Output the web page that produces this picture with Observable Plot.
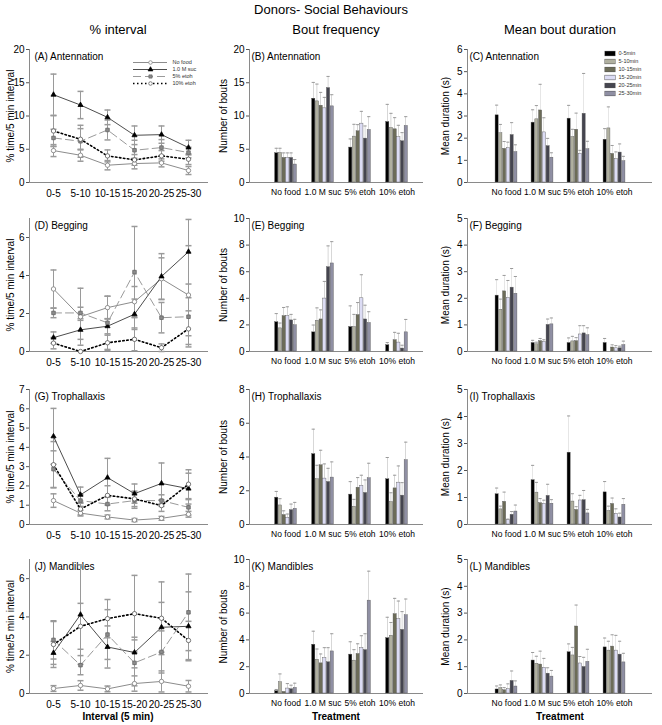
<!DOCTYPE html>
<html>
<head>
<meta charset="utf-8">
<script src="https://cdn.jsdelivr.net/npm/d3@7"></script>
<script src="https://cdn.jsdelivr.net/npm/@observablehq/plot@0.6"></script>
<style>
html,body{margin:0;padding:0;background:#fff;}
#fig{position:relative;width:662px;height:725px;overflow:hidden;font-family:"Liberation Sans",Arial,Helvetica,sans-serif;color:#000;}
.t{position:absolute;white-space:nowrap;transform:translateX(-50%);line-height:1;}
</style>
</head>
<body>
<div id="fig"></div>
<script>
// ---------- categories ----------
const intervals = ["0-5","5-10","10-15","15-20","20-25","25-30"];
const treatments = ["No food","1.0 M suc","5% etoh","10% etoh"];
const periods = ["0-5min","5-10min","10-15min","15-20min","20-25min","25-30min"];

// ---------- % interval (rows = treatments, cols = intervals) ----------
const antPctMean = [[4.8,4.1,2.6,2.85,2.95,1.8],[13.2,11.65,9.8,7.1,7.2,5.25],[6.7,6.2,7.9,4.85,5.25,4.5],[7.75,6.5,4.0,3.4,4.0,3.5]];
const antPctErr  = [[0.9,0.9,0.7,0.8,0.6,0.6],[3.1,2.05,1.1,1.4,1.3,1.1],[1.3,2.4,1.5,1.5,1.2,0.8],[2.3,1.6,0.9,0.8,0.8,0.8]];
const begPctMean = [[3.29,1.83,2.31,2.62,3.83,2.97],[0.73,1.14,1.33,1.96,3.95,5.25],[2.03,2.03,1.51,4.18,1.78,1.83],[0.44,0.0,0.46,0.64,0.2,1.19]];
const begPctErr  = [[1.0,1.5,0.6,0.8,1.1,2.6],[0.3,0.5,0.4,0.8,1.2,1.7],[0.25,0.3,1.4,2.4,0.8,1.0],[0.3,0.0,0.4,0.6,0.2,0.95]];
const troPctMean = [[1.24,0.59,0.39,0.23,0.32,0.53],[4.57,1.54,2.43,1.6,2.13,1.86],[2.87,1.24,1.06,1.24,1.24,0.89],[3.1,0.8,1.51,1.33,0.98,2.09]];
const troPctErr  = [[0.35,0.15,0.1,0.08,0.1,0.15],[1.45,0.4,1.0,0.5,1.06,0.8],[0.95,0.3,0.35,0.4,0.3,0.4],[1.2,0.3,0.5,0.4,0.3,0.75]];
const manPctMean = [[0.26,0.42,0.24,0.52,0.63,0.38],[2.12,4.12,2.43,2.14,3.46,3.51],[2.8,1.48,3.08,1.6,2.17,4.24],[2.56,3.51,3.91,4.17,3.93,2.77]];
const manPctErr  = [[0.15,0.25,0.15,0.4,0.55,0.3],[0.6,2.6,1.1,0.8,1.3,1.8],[1.0,0.5,1.3,1.2,1.1,2.0],[1.2,1.2,1.0,2.0,1.9,1.0]];

// ---------- bout frequency (rows = treatments, cols = periods) ----------
const antBoutMean = [[4.4,4.45,3.7,3.7,3.7,2.7],[12.6,12.2,11.55,11.15,14.2,11.45],[5.25,6.9,7.7,8.85,6.6,7.9],[9.1,8.2,8.0,6.8,6.2,8.5]];
const antBoutErr  = [[0.75,0.7,0.75,0.75,0.75,0.75],[2.45,2.6,2.0,1.65,1.75,1.75],[1.3,1.85,1.0,1.85,1.9,2.0],[2.65,2.2,1.75,1.8,1.3,1.4]];
const begBoutMean = [[2.2,1.74,2.66,2.66,2.34,1.97],[1.44,2.31,2.41,3.98,6.34,6.62],[1.84,1.84,2.74,4.0,2.41,2.14],[0.47,0,0.85,0.67,0.22,1.44]];
const begBoutErr  = [[0.65,0.4,0.65,0.7,0.45,0.45],[0.55,0.97,0.72,1.29,1.6,1.64],[1.59,0.95,0.94,1.77,1.07,0.85],[0.2,0,0.59,0.7,0.25,0.97]];
const troBoutMean = [[1.59,1.13,0.56,0.4,0.85,0.93],[4.17,2.68,3.51,2.72,2.52,2.78],[1.77,1.05,2.18,2.3,1.87,2.74],[2.68,1.33,2.14,2.48,1.71,3.81]];
const troBoutErr  = [[0.37,0.4,0.25,0.22,0.36,0.38],[1.48,0.83,0.89,0.87,0.81,0.93],[0.77,0.44,0.6,0.62,0.77,0.89],[1.29,0.55,0.78,0.99,0.77,1.07]];
const manBoutMean = [[0.17,0.84,0.12,0.37,0.32,0.42],[3.64,2.52,2.25,2.65,2.33,3.14],[2.9,2.45,2.95,3.39,3.24,6.93],[4.13,4.31,5.92,5.54,4.75,5.84]];
const manBoutErr  = [[0.13,0.62,0,0.37,0.3,0.35],[1.01,0.8,0.7,0.77,1.09,1.32],[0.96,0.82,0.76,0.92,1.22,2.2],[1.56,0.99,1.18,1.36,1.36,1.21]];

// ---------- mean bout duration (rows = treatments, cols = periods) ----------
const antDurMean = [[3.03,2.22,1.52,1.55,2.14,1.37],[2.7,2.85,3.25,2.26,1.64,1.12],[2.88,2.05,2.38,1.3,3.1,1.5],[1.93,2.44,1.29,1.05,1.35,0.96]];
const antDurErr  = [[0.46,0.4,0.33,0.27,0.56,0.33],[0.58,0.62,1.18,0.66,0.35,0.22],[0.6,0.35,0.75,0.15,1.82,0.36],[0.5,0.97,0.38,0.33,0.39,0.22]];
const begDurMean = [[2.1,1.57,2.26,2.01,2.4,2.17],[0.32,0.27,0.39,0.36,1.0,1.02],[0.32,0.38,0.39,0.64,0.68,0.61],[0.32,0,0.15,0.12,0.12,0.24]];
const begDurErr  = [[0.6,0.4,0.6,0.66,0.72,0.65],[0.1,0.08,0.1,0.08,0.22,0.24],[0.19,0.19,0.13,0.33,0.29,0.28],[0.17,0,0.1,0.1,0.08,0.15]];
const troDurMean = [[1.12,0.56,0.84,0.16,0.36,0.48],[1.64,1.18,0.79,0.77,1.06,0.77],[2.66,0.85,0.54,0.89,0.9,0.41],[1.19,0.5,0.76,0.4,0.26,0.73]];
const troDurErr  = [[0.23,0.12,0.36,0.04,0.12,0.24],[0.55,0.38,0.17,0.13,0.43,0.15],[1.36,0.29,0.12,0.19,0.36,0.15],[0.4,0.18,0.22,0.18,0.16,0.23]];
const manDurMean = [[0.15,0.2,0.12,0.16,0.47,0.26],[1.23,1.11,1.08,0.96,0.74,0.63],[1.54,1.42,2.5,1.12,0.99,1.18],[1.72,1.6,1.75,1.6,1.45,1.16]];
const manDurErr  = [[0.13,0.12,0.1,0.2,0.37,0.21],[0.3,0.28,0.5,0.35,0.22,0.23],[0.31,0.3,0.8,0.26,0.36,0.47],[0.35,0.35,0.44,0.57,0.5,0.34]];

// ---------- tick values ----------
const ticks20 = [0,5,10,15,20];
const ticks10 = [0,2,4,6,8,10];
const ticks8 = [0,2,4,6,8];
const ticks7even = [0,2,4,6];
const ticks7 = [0,1,2,3,4,5,6,7];
const ticks6 = [0,1,2,3,4,5,6];
const ticks5 = [0,1,2,3,4,5];

// ---------- styles ----------
const FONT = '"Liberation Sans", Arial, Helvetica, sans-serif';
const AXIS = "#8a8a8a";
const ERR = "#9a9a9a";
const periodColor = ["#000000","#b0b0a0","#6c6c58","#dcdcf4","#45454f","#8f8fa3"];
const lineStroke = ["#8c8c8c","#4d4d4d","#9a9a9a","#000000"];
const lineDash = [undefined, undefined, "8,4", "1.5,2.5"];
const lineWidth = [1, 1, 1, 1.6];
const markSymbol = ["circle","triangle","square","circle"];
const markR = [2.2, 1.9, 2.0, 2.2];
const markFill = ["#ffffff","#000000","#8c8c8c","#ffffff"];
const markStroke = ["#7a7a7a","#000000","#666666","#555555"];
const STYLE = {fontFamily: FONT, fontSize: "10px", background: "transparent", overflow: "visible", color: "#000"};
// horizontal-bar symbol used for error-bar caps on the line panels
const capSymbol = {draw(context, size) { const h = Math.sqrt(size / Math.PI); context.moveTo(-h, 0); context.lineTo(h, 0); }};

const COLS = [
  {left: 0, width: 215, axis: 29, right: 208, inL: 24, inR: 20},
  {left: 212, width: 215, axis: 249, right: 423, inL: 17.25, inR: 6.75},
  {left: 432, width: 230, axis: 467, right: 652, inL: 19.7, inR: 18.7}
];
const ROWS = [{top: 49, bottom: 182}, {top: 218, bottom: 351}, {top: 389, bottom: 524}, {top: 559, bottom: 693}];
const MT = 12, MB = 26;

const fig = document.getElementById("fig");
function place(node, left, top) {
  node.style.position = "absolute";
  node.style.left = left + "px";
  node.style.top = top + "px";
  fig.appendChild(node);
}
function label(text, x, y, size, weight) {
  const d = document.createElement("div");
  d.className = "t";
  d.textContent = text;
  d.style.left = x + "px";
  d.style.top = y + "px";
  d.style.fontSize = size + "px";
  if (weight) d.style.fontWeight = weight;
  fig.appendChild(d);
}
function table(keys, means, errs) {
  const out = [];
  treatments.forEach((t, ti) => keys.forEach((k, ki) => out.push({treatment: t, key: k, mean: means[ti][ki], err: errs[ti][ki]})));
  return out;
}
function frameOpts(col, row) {
  const c = COLS[col], r = ROWS[row];
  return {width: c.width, height: MT + (r.bottom - r.top) + MB, marginLeft: c.axis - c.left,
          marginRight: c.left + c.width - c.right, marginTop: MT, marginBottom: MB};
}
function commonMarks(ticks, title, ytitle, titleDx, ytitleDx, xFont, xPad) {
  return [
    Plot.axisY(ticks, {tickSize: 3, tickPadding: 2, fontSize: 10, stroke: "#555", tickFormat: d => String(d), label: null}),
    Plot.axisX({tickSize: 0, tickPadding: xPad, fontSize: xFont, label: null}),
    Plot.frame({anchor: "left", stroke: AXIS}),
    Plot.ruleY([0], {stroke: AXIS}),
    Plot.text([title], {text: d => d, frameAnchor: "top-left", dx: titleDx, dy: 3, textAnchor: "start", lineAnchor: "top", fontSize: 10}),
    Plot.text([ytitle], {text: d => d, frameAnchor: "left", dx: -ytitleDx, rotate: -90, textAnchor: "middle", lineAnchor: "middle", fontSize: 10})
  ];
}

function linePanel(letter, name, row, means, errs, domain, ticks) {
  const c = COLS[0];
  const data = table(intervals, means, errs);
  const lo = d => Math.max(0, d.mean - d.err), hi = d => d.mean + d.err;
  const withErr = data.filter(d => d.err > 0);
  const marks = [
    ...commonMarks(ticks, `(${letter}) ${name}`, "% time/5 min interval", 5, 19, 10, 7),
    Plot.ruleX(withErr, {x: "key", y1: lo, y2: hi, stroke: ERR}),
    Plot.dot(withErr, {x: "key", y: hi, symbol: capSymbol, r: 3, stroke: ERR, fill: "none"}),
    Plot.dot(withErr, {x: "key", y: lo, symbol: capSymbol, r: 3, stroke: ERR, fill: "none"})
  ];
  treatments.forEach((t, ti) => marks.push(Plot.line(data.filter(d => d.treatment === t),
    {x: "key", y: "mean", stroke: lineStroke[ti], strokeWidth: lineWidth[ti], strokeDasharray: lineDash[ti]})));
  treatments.forEach((t, ti) => marks.push(Plot.dot(data.filter(d => d.treatment === t),
    {x: "key", y: "mean", symbol: markSymbol[ti], r: markR[ti], fill: markFill[ti], stroke: markStroke[ti], strokeWidth: 0.8})));
  const svg = Plot.plot({
    ...frameOpts(0, row),
    x: {type: "point", domain: intervals, padding: 0, insetLeft: c.inL, insetRight: c.inR},
    y: {domain, label: null},
    style: STYLE,
    marks
  });
  place(svg, c.left, ROWS[row].top - MT);
}

function barPanel(letter, name, row, col, means, errs, domain, ticks, ytitle, ytitleDx) {
  const c = COLS[col];
  const data = table(periods, means, errs);
  const bw = (c.right - c.axis - c.inL - c.inR) / treatments.length;
  const w = col === 1 ? 3.7 : 3.75;
  const marks = [...commonMarks(ticks, `(${letter}) ${name}`, ytitle, 2, ytitleDx, 8.5, 6)];
  periods.forEach((p, pi) => {
    const sub = data.filter(d => d.key === p && d.mean > 0);
    marks.push(Plot.barY(sub, {x: "treatment", y: "mean", fill: periodColor[pi], stroke: "#555", strokeWidth: 0.4,
      insetLeft: (bw - w) / 2, insetRight: (bw - w) / 2, dx: (pi - 2.5) * w}));
  });
  periods.forEach((p, pi) => {
    const sub = data.filter(d => d.key === p && d.err > 0);
    const dx = (pi - 2.5) * w;
    marks.push(Plot.barY(sub, {x: "treatment", y1: "mean", y2: d => d.mean + d.err, fill: ERR,
      insetLeft: (bw - 0.9) / 2, insetRight: (bw - 0.9) / 2, dx}));
    marks.push(Plot.tickY(sub, {x: "treatment", y: d => d.mean + d.err, stroke: ERR,
      insetLeft: (bw - w) / 2, insetRight: (bw - w) / 2, dx}));
  });
  const svg = Plot.plot({
    ...frameOpts(col, row),
    x: {type: "band", domain: treatments, padding: 0, insetLeft: c.inL, insetRight: c.inR},
    y: {domain, label: null},
    style: STYLE,
    marks
  });
  place(svg, c.left, ROWS[row].top - MT);
}

// ---------- panels ----------
linePanel("A", "Antennation", 0, antPctMean, antPctErr, [0, 20], ticks20);
barPanel("B", "Antennation", 0, 1, antBoutMean, antBoutErr, [0, 20], ticks20, "Number of bouts", 26);
barPanel("C", "Antennation", 0, 2, antDurMean, antDurErr, [0, 6], ticks6, "Mean duration (s)", 22);
linePanel("D", "Begging", 1, begPctMean, begPctErr, [0, 7], ticks7even);
barPanel("E", "Begging", 1, 1, begBoutMean, begBoutErr, [0, 10], ticks10, "Number of bouts", 26);
barPanel("F", "Begging", 1, 2, begDurMean, begDurErr, [0, 5], ticks5, "Mean duration (s)", 22);
linePanel("G", "Trophallaxis", 2, troPctMean, troPctErr, [0, 7], ticks7);
barPanel("H", "Trophallaxis", 2, 1, troBoutMean, troBoutErr, [0, 8], ticks8, "Number of bouts", 26);
barPanel("I", "Trophallaxis", 2, 2, troDurMean, troDurErr, [0, 5], ticks5, "Mean duration (s)", 22);
linePanel("J", "Mandibles", 3, manPctMean, manPctErr, [0, 7], ticks7even);
barPanel("K", "Mandibles", 3, 1, manBoutMean, manBoutErr, [0, 10], ticks10, "Number of bouts", 26);
barPanel("L", "Mandibles", 3, 2, manDurMean, manDurErr, [0, 5], ticks5, "Mean duration (s)", 22);

// ---------- legends ----------
const legA = Plot.plot({
  width: 72, height: 29, marginLeft: 0, marginRight: 38, marginTop: 4, marginBottom: 4,
  y: {type: "point", domain: treatments, padding: 0, axis: null},
  style: STYLE,
  marks: [
    ...treatments.map((t, ti) => Plot.ruleY([t], {y: d => d, stroke: lineStroke[ti], strokeWidth: lineWidth[ti], strokeDasharray: lineDash[ti]})),
    ...treatments.map((t, ti) => Plot.dot([t], {y: d => d, symbol: markSymbol[ti], r: 1.8, fill: markFill[ti], stroke: markStroke[ti], strokeWidth: 0.7})),
    Plot.text(treatments, {y: d => d, text: d => d, frameAnchor: "right", dx: 5, textAnchor: "start", fontSize: 5.5, fill: "#333"})
  ]
});
place(legA, 133, 58);

const legC = Plot.plot({
  width: 52, height: 48, marginLeft: 0, marginRight: 42, marginTop: 4, marginBottom: 4,
  y: {type: "point", domain: periods, padding: 0, axis: null},
  style: STYLE,
  marks: [
    ...periods.map((p, pi) => Plot.ruleY([p], {y: d => d, stroke: "#555", strokeWidth: 5.2, insetLeft: -0.5, insetRight: -0.5})),
    ...periods.map((p, pi) => Plot.ruleY([p], {y: d => d, stroke: periodColor[pi], strokeWidth: 4.2})),
    Plot.text(periods, {y: d => d, text: d => d, frameAnchor: "right", dx: 3, textAnchor: "start", fontSize: 5.5, fill: "#333"})
  ]
});
place(legC, 605, 49);

// ---------- titles ----------
label("Donors- Social Behaviours", 331, 3, 13);
label("% interval", 118, 23, 13);
label("Bout frequency", 336, 23, 13);
label("Mean bout duration", 560, 23, 13);
label("Interval (5 min)", 118, 712, 10, "bold");
label("Treatment", 336, 712, 10, "bold");
label("Treatment", 560, 712, 10, "bold");
</script>
</body>
</html>
